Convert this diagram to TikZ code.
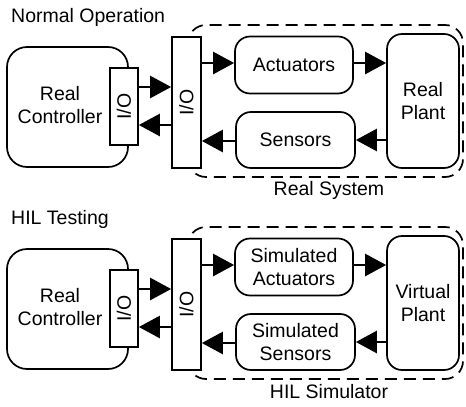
\documentclass[tikz,border=0pt]{standalone}
\usepackage{fontspec}
\setmainfont{Liberation Sans}
\usetikzlibrary{arrows.meta}

\tikzset{
  blk/.style={draw, line width=1.7pt, fill=white, rounded corners=15pt, inner sep=0pt},
  ctl/.style={draw, line width=1.7pt, fill=white, rounded corners=20pt, inner sep=0pt},
  iobox/.style={draw, line width=1.7pt, fill=white, inner sep=0pt},
  iotext/.style={rotate=90, inner sep=0pt},
  frame/.style={draw, line width=1.7pt, dash pattern=on 12pt off 7pt, rounded corners=18pt},
  lbl/.style={align=center, inner sep=0pt, font=\fontsize{19.5}{23.5}\selectfont},
  ttl/.style={anchor=west, inner sep=0pt, font=\fontsize{19.5}{23.5}\selectfont},
  sig/.style={line width=2.6pt, -{Triangle[length=21pt,width=22pt]}}
}

\begin{document}
\begin{tikzpicture}[x=1pt,y=-1pt, font=\fontsize{19.5}{23.5}\selectfont]
  \useasboundingbox (0,0) rectangle (466,407);

  % two panels: the real system, then the HIL simulator below it
  \foreach \dy/\name/\title/\sys/\acttxt/\sentxt/\planttxt in {
      0/top/Normal Operation/Real System/Actuators/Sensors/Real\\Plant,
      202/bot/HIL Testing/HIL Simulator/Simulated\\Actuators/Simulated\\Sensors/Virtual\\Plant} {
    \begin{scope}[yshift=-\dy pt]
      \node[ttl] (\name-title) at (11,17) {\title};

      % dashed outline of the system under the controller
      \draw[frame] (188,25) rectangle (463,177);
      \node[lbl] (\name-sys) at (329,190) {\sys};

      % controller with its I/O card
      \node[ctl, minimum width=121pt, minimum height=120pt] (\name-ctrl) at (67.5,107) {};
      \node[lbl] (\name-ctrltxt) at (60,105) {Real\\Controller};
      \node[iobox, minimum width=28pt, minimum height=77pt] (\name-io1) at (124,106.5) {};
      \node[iotext] (\name-io1txt) at (\name-io1) {I/O};

      % system I/O interface
      \node[iobox, minimum width=29pt, minimum height=131pt] (\name-io2) at (186.5,102.5) {};
      \node[iotext] (\name-io2txt) at (\name-io2) {I/O};

      % actuators, sensors and plant
      \node[blk, lbl, minimum width=118pt, minimum height=57pt] (\name-act) at (294,65) {\acttxt};
      \node[blk, lbl, minimum width=119pt, minimum height=56pt] (\name-sen) at (295.5,140) {\sentxt};
      \node[blk, lbl, minimum width=72pt, minimum height=134pt] (\name-plant) at (423,101) {\planttxt};

      % signal flow
      \draw[sig] (\name-io1.east |- 0,87) -- (\name-io2.west |- 0,87);
      \draw[sig] (\name-io2.west |- 0,125) -- (\name-io1.east |- 0,125);
      \draw[sig] (\name-io2.east |- 0,63) -- (\name-act.west |- 0,63);
      \draw[sig] (\name-sen.west |- 0,141) -- (\name-io2.east |- 0,141);
      \draw[sig] (\name-act.east |- 0,63) -- (\name-plant.west |- 0,63);
      \draw[sig] (\name-plant.west |- 0,140) -- (\name-sen.east |- 0,140);
    \end{scope}
  }
\end{tikzpicture}
\end{document}
